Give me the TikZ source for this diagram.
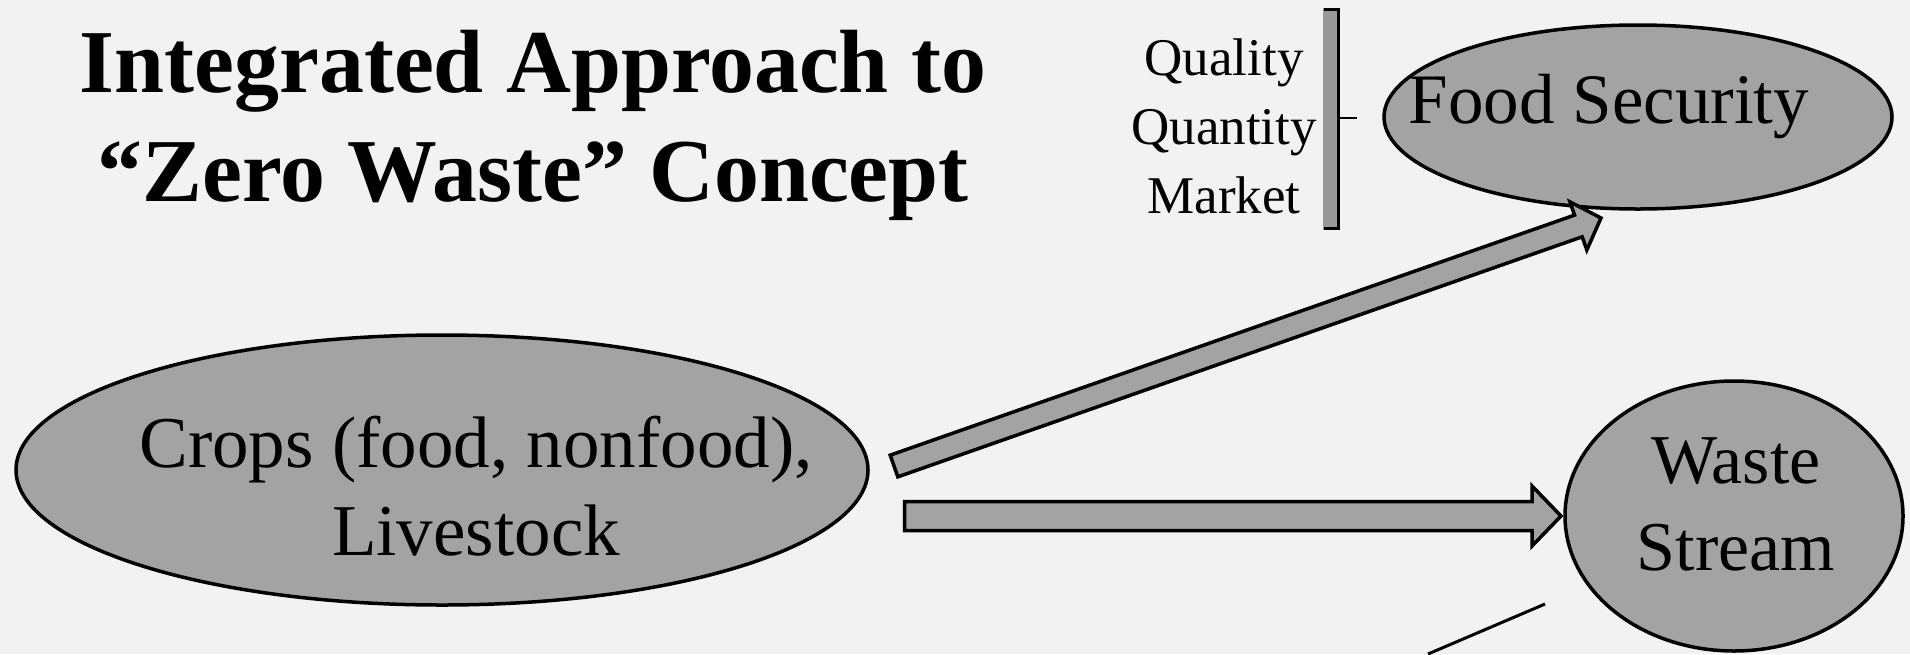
\documentclass[tikz,border=0pt]{standalone}
\usepackage{fontspec}
\setmainfont{Liberation Serif}
\usetikzlibrary{calc,shapes.geometric}
\definecolor{paper}{gray}{0.95}
\definecolor{fillg}{gray}{0.64}
\definecolor{barg}{gray}{0.6}
\tikzset{
  blob/.style={ellipse, draw=black, line width=3.5pt, fill=fillg, inner sep=0pt},
  lbl/.style={inner sep=0pt, align=center, text=black},
  blockarrow/.style={draw=black, line width=3.5pt, fill=fillg, line join=miter},
  thinline/.style={draw=black, line width=3pt},
  barbox/.style={fill=barg, inner sep=0pt, minimum width=17pt, minimum height=222pt},
}
\newcommand{\blockarr}[5]{%
  \coordinate (hb) at ($(#2)!#5!(#1)$);
  \draw[blockarrow] ($(#1)!#3!90:(#2)$) -- ($(hb)!#3!90:(#2)$) -- ($(hb)!#4!90:(#2)$) -- (#2)
     -- ($(hb)!#4!-90:(#2)$) -- ($(hb)!#3!-90:(#2)$) -- ($(#1)!#3!-90:(#2)$) -- cycle;
}
\begin{document}
\begin{tikzpicture}[x=1pt,y=-1pt]
\fill[paper] (0,0) rectangle (1910,654);
\useasboundingbox (0,0) rectangle (1910,654);

% title (anchor = baseline of last line)
\node[lbl, font=\bfseries\fontsize{89.8}{109}\selectfont, anchor=base] (title) at (533,201)
  {Integrated Approach to\\“Zero Waste” Concept};

% ellipses
\node[blob, minimum width=852pt, minimum height=270pt] (crops) at (442,470) {};
\node[blob, minimum width=508pt, minimum height=184pt] (fs) at (1638,117) {};
\node[blob, minimum width=338pt, minimum height=270pt] (ws) at (1734,516) {};

% ellipse texts
\node[lbl, font=\fontsize{73}{88}\selectfont, anchor=base] (cropstxt) at (476,555)
  {Crops (food, nonfood),\\Livestock};
\node[lbl, font=\fontsize{71}{85}\selectfont, anchor=base] (fstxt) at (1609,123) {Food Security};
\node[lbl, font=\fontsize{70}{87}\selectfont, anchor=base] (wstxt) at (1736,570) {Waste\\Stream};

% quality list and bracket
\node[lbl, font=\fontsize{53}{69}\selectfont, anchor=base] (qlist) at (1224,213)
  {Quality\\Quantity\\Market};
\node[barbox] (bar) at (1331.5,119) {};
\draw[black, line width=3pt] ([xshift=1pt,yshift=-1.5pt]bar.north west) -- ([xshift=-1.5pt,yshift=-1.5pt]bar.north east)
  -- ([xshift=-1.5pt,yshift=1.5pt]bar.south east) -- ([xshift=1pt,yshift=1.5pt]bar.south west);
\coordinate (tickend) at (1357,118);
\draw[black, line width=2pt] (bar.east |- tickend) -- (tickend);

% block arrows
\coordinate (a1t) at (894,466);
\coordinate (a1h) at (1601,218);
\blockarr{a1t}{a1h}{11.5pt}{25.5pt}{24pt}
\coordinate (a2t) at (904.5,516);
\coordinate (a2h) at (1561,516);
\blockarr{a2t}{a2h}{14.5pt}{30pt}{29pt}

% thin line at bottom
\coordinate (l1) at (1545,604);
\coordinate (l2) at (1428,654);
\draw[thinline] (l1) -- (l2);
\end{tikzpicture}
\end{document}
